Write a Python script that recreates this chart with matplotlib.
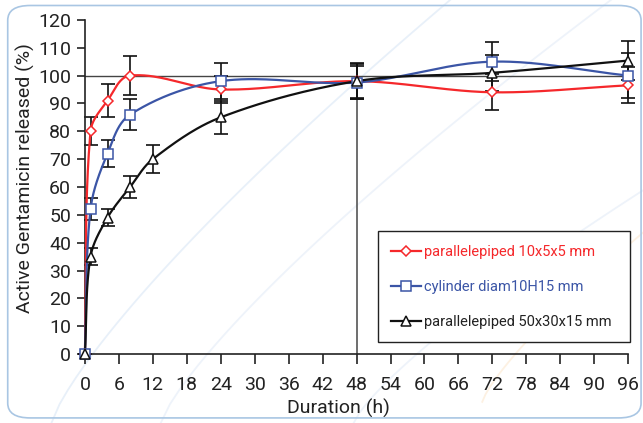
import numpy as np
import matplotlib
matplotlib.use("Agg")
import matplotlib.pyplot as plt
from matplotlib.patches import FancyBboxPatch
from matplotlib.lines import Line2D

plt.rcParams['font.family'] = ['Roboto', 'DejaVu Sans']

# data
t_small = [0, 1, 4, 8, 24, 48, 72, 96]
red_vals = [0, 80, 91, 100, 95, 98, 94, 96.5]
red_err = [0, 5, 6, 7, 5, 6, 6.5, 6.5]

blue_vals = [0, 52, 72, 86, 98, 97.5, 105, 100]
blue_err = [0, 4, 5, 5.5, 6.5, 6, 7, 8]

t_big = [0, 1, 4, 8, 12, 24, 48, 72, 96]
black_vals = [0, 35, 49, 60, 70, 85, 98, 101, 105.4]
black_err = [0, 3, 3, 4, 5, 6, 6.5, 6.5, 7]

labels = ['parallelepiped 10x5x5 mm', 'cylinder diam10H15 mm',
          'parallelepiped 50x30x15 mm']
colors = ['#f5282b', '#3b55a6', '#111111']
markers = ['D', 's', '^']
msizes = [5, 6.5, 6.5]

x_ticks = list(range(0, 97, 6))
y_ticks = list(range(0, 121, 10))

# rough pixel scale of the axes, used so the smoothing works in screen space
SX, SY = 5.65, 2.78


def smooth(x, y, n=40):
    # excel-like smoothed line: bezier, control arms scaled by segment length
    p = np.column_stack([np.asarray(x, float) * SX, np.asarray(y, float) * SY])
    m = len(p)
    dirs = []
    for i in range(m):
        a = p[max(i - 1, 0)]
        b = p[min(i + 1, m - 1)]
        d = b - a
        dirs.append(d / (np.hypot(*d) or 1))
    s = np.linspace(0, 1, n)[:, None]
    out = []
    for i in range(m - 1):
        p0, p3 = p[i], p[i + 1]
        L = np.hypot(*(p3 - p0))
        c1 = p0 + dirs[i] * L / 3
        c2 = p3 - dirs[i + 1] * L / 3
        b = (1 - s) ** 3 * p0 + 3 * (1 - s) ** 2 * s * c1 + 3 * (1 - s) * s ** 2 * c2 + s ** 3 * p3
        out.append(b)
    out = np.vstack(out)
    return out[:, 0] / SX, out[:, 1] / SY


fig = plt.figure(figsize=(6.43, 4.23), dpi=100)

# rounded frame and faint decoration
frame = FancyBboxPatch((0.012, 0.012), 0.985, 0.975, boxstyle="round,pad=0,rounding_size=0.035",
                       transform=fig.transFigure, fill=False, ec='#a9c6e3', lw=1.2)
fig.patches.append(frame)
for (x0, y0, x1, y1, c) in [(0.08, 0.0, 0.70, 1.0, '#e8f0f9'), (0.25, 0.0, 0.95, 1.0, '#eef3fa'),
                            (0.55, 0.0, 1.0, 0.55, '#eef3fa'), (0.75, 0.05, 1.0, 0.45, '#fdf1e2')]:
    tt = np.linspace(0, 1, 50)
    xx = x0 + (x1 - x0) * tt
    yy = y0 + (y1 - y0) * tt ** 0.8
    fig.add_artist(Line2D(xx, yy, transform=fig.transFigure, color=c, lw=1.3, zorder=0))

ax = fig.add_axes([0.132, 0.163, 0.845, 0.79])
ax.patch.set_alpha(0)

ax.plot([0, 96], [100, 100], color='#444444', lw=1.0, zorder=1)
ax.plot([48, 48], [0, 98], color='#555555', lw=1.2, zorder=1)

series = [(t_small, red_vals, red_err), (t_small, blue_vals, blue_err),
          (t_big, black_vals, black_err)]
for (t, v, e), c, m, ms, lab in zip(series, colors, markers, msizes, labels):
    ax.errorbar(t, v, yerr=e, fmt='none', ecolor='#111111', elinewidth=1.2,
                capsize=5, capthick=1.2, zorder=2, clip_on=False)
    sx, sy = smooth(t, v)
    ax.plot(sx, sy, color=c, lw=1.6, zorder=3, clip_on=False)
    ax.plot(t, v, ls='none', marker=m, ms=ms, mfc='white', mec=c, mew=1.1,
            zorder=4, clip_on=False)

ax.set_xlim(0, 96)
ax.set_ylim(0, 120)
ax.set_xticks(x_ticks)
ax.set_yticks(y_ticks)
for sp in ['top', 'right']:
    ax.spines[sp].set_visible(False)
for sp in ['left', 'bottom']:
    ax.spines[sp].set_color('#222222')
    ax.spines[sp].set_linewidth(1.2)
ax.tick_params(axis='x', direction='out', length=7, width=1.2, pad=9, labelsize=14,
               colors='#222222')
ax.tick_params(axis='y', direction='out', length=6, width=1.2, pad=4, labelsize=14,
               colors='#222222')

ax.set_xlabel('Duration (h)', fontsize=14, color='#222222')
ax.xaxis.set_label_coords(0.466, -0.135)
ax.set_ylabel('Active Gentamicin released (%)', fontsize=14, color='#222222')
ax.yaxis.set_label_coords(-0.092, 0.527)

handles = [Line2D([], [], color=c, lw=1.6, marker=m, ms=ms, mfc='white', mec=c, mew=1.1)
           for c, m, ms in zip(colors, markers, msizes)]
leg = ax.legend(handles, labels, loc='lower left', bbox_to_anchor=(0.54, 0.036, 0.464, 0.326),
                mode='expand', borderaxespad=0, fontsize=10.5, frameon=True, fancybox=False,
                edgecolor='#222222', framealpha=1, labelspacing=1.45,
                handlelength=2.0, handletextpad=0.25, borderpad=0.9)
leg.get_frame().set_linewidth(1.0)
for txt, c in zip(leg.get_texts(), colors):
    txt.set_color(c if c != '#111111' else '#222222')

fig.savefig('out.png', dpi=100)
